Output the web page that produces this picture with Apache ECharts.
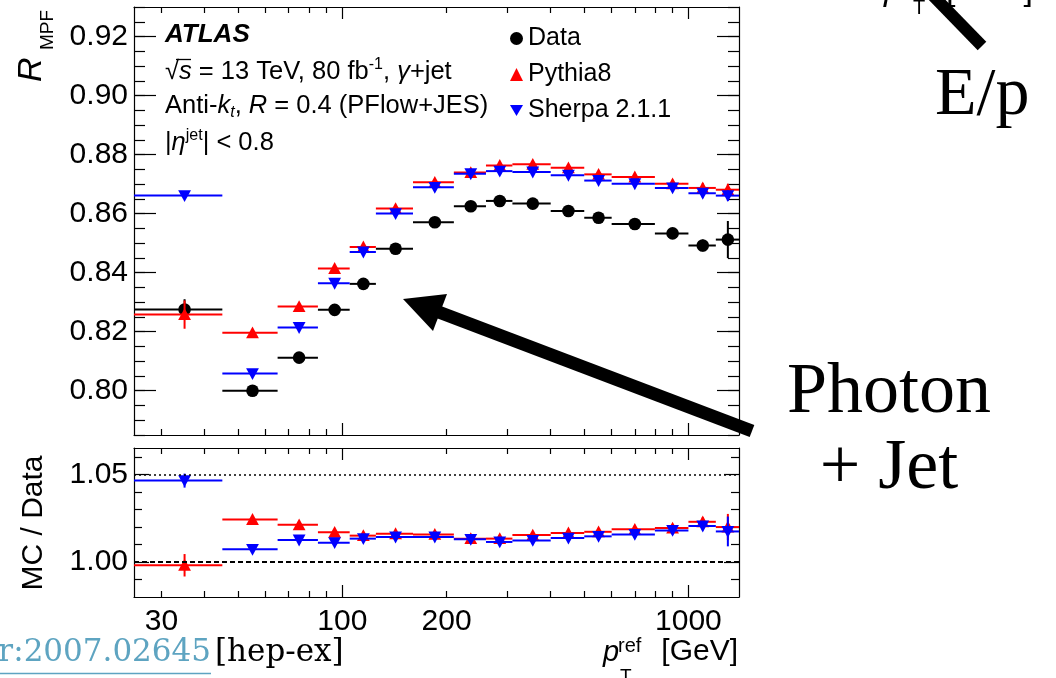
<!DOCTYPE html>
<html>
<head>
<meta charset="utf-8">
<title>R_MPF vs pT(ref)</title>
<script src="https://cdn.jsdelivr.net/npm/echarts@6.0.0/dist/echarts.min.js"></script>
<style>
html, body { margin: 0; padding: 0; background: #fff; }
#chart { width: 1056px; height: 678px; }
</style>
</head>
<body>
<div id="chart"></div>
<script>
// pT(ref) binning [GeV]
const binEdges   = [25, 45, 65, 85, 105, 125, 160, 210, 260, 310, 400, 500, 600, 800, 1000, 1200, 1400];
const binCenters = [35, 55, 75, 95, 115, 142.5, 185, 235, 285, 355, 450, 550, 700, 900, 1100, 1300];

// MPF response, |eta_jet| < 0.8
const dataR     = [0.8275, 0.8000, 0.8112, 0.8274, 0.8362, 0.8481, 0.8571, 0.8625, 0.8643, 0.8634, 0.8609, 0.8586, 0.8565, 0.8533, 0.8492, 0.8512];
const dataErr   = [0.0035, 0.0008, 0.0007, 0.0007, 0.0007, 0.0007, 0.0007, 0.0007, 0.0008, 0.0008, 0.0009, 0.0010, 0.0012, 0.0015, 0.0020, 0.0063];
const pythiaR   = [0.8258, 0.8196, 0.8285, 0.8414, 0.8487, 0.8617, 0.8706, 0.8739, 0.8763, 0.8767, 0.8755, 0.8733, 0.8724, 0.8701, 0.8687, 0.8681];
const pythiaErr = [0.0048, 0.0008, 0.0008, 0.0008, 0.0008, 0.0009, 0.0009, 0.0009, 0.0010, 0.0010, 0.0011, 0.0012, 0.0013, 0.0014, 0.0016, 0.0020];
const sherpaR   = [0.8661, 0.8058, 0.8214, 0.8364, 0.8470, 0.8600, 0.8689, 0.8735, 0.8744, 0.8741, 0.8730, 0.8712, 0.8701, 0.8687, 0.8669, 0.8661];
const sherpaErr = [0.0010, 0.0006, 0.0006, 0.0006, 0.0006, 0.0007, 0.0007, 0.0008, 0.0008, 0.0008, 0.0009, 0.0010, 0.0011, 0.0012, 0.0014, 0.0018];

// MC / Data
const pythiaRatio    = [0.9981, 1.0242, 1.0212, 1.0169, 1.0150, 1.0161, 1.0157, 1.0133, 1.0133, 1.0153, 1.0165, 1.0172, 1.0186, 1.0193, 1.0229, 1.0199];
const pythiaRatioErr = [0.0064, 0.0012, 0.0014, 0.0014, 0.0014, 0.0015, 0.0015, 0.0016, 0.0017, 0.0018, 0.0019, 0.0020, 0.0022, 0.0024, 0.0026, 0.0075];
const sherpaRatio    = [1.0464, 1.0072, 1.0125, 1.0110, 1.0133, 1.0142, 1.0142, 1.0129, 1.0114, 1.0123, 1.0136, 1.0146, 1.0157, 1.0180, 1.0205, 1.0174];
const sherpaRatioErr = [0.0040, 0.0010, 0.0012, 0.0012, 0.0012, 0.0013, 0.0013, 0.0014, 0.0015, 0.0016, 0.0017, 0.0018, 0.0020, 0.0022, 0.0024, 0.0085];

// Axis ticks and labels
const xMajorTicks  = [100, 1000];
const xMinorTicks  = [30, 40, 50, 60, 70, 80, 90, 200, 300, 400, 500, 600, 700, 800, 900];
const xTickLabels  = [30, 100, 200, 1000];
const mainYTicks   = [0.80, 0.82, 0.84, 0.86, 0.88, 0.90, 0.92];
const ratioYTicks  = [1.00, 1.05];
const ratioYMinor  = [0.99, 1.01, 1.02, 1.03, 1.04, 1.06];
const mainYMinor   = [];
for (let k = 157; k <= 186; k++) mainYMinor.push(+(k * 0.005).toFixed(3));

const X_MIN = 25, X_MAX = 1400;
const MAIN_MIN = 0.785, MAIN_MAX = 0.93;
const RATIO_MIN = 0.98, RATIO_MAX = 1.065;

const SANS = '"Liberation Sans", Arial, Helvetica, sans-serif';
const SERIF = '"Liberation Serif", "Times New Roman", serif';
const RED = '#ff0000', BLUE = '#0000ff', BLACK = '#000000';
const LINK = '#5ea4c1';

function xAxisOf(grid, position, ticks, len, withLine, labels) {
  return {
    type: 'log', logBase: 10, gridIndex: grid, position, min: X_MIN, max: X_MAX,
    axisLine: { show: withLine, onZero: false, lineStyle: { color: BLACK, width: 1.2 } },
    axisTick: { show: true, inside: true, length: len, customValues: ticks, lineStyle: { color: BLACK, width: 1.2 } },
    axisLabel: labels ? {
      show: true, customValues: labels, formatter: v => String(Math.round(v)),
      color: BLACK, fontFamily: SANS, fontSize: 30, margin: 10
    } : { show: false },
    splitLine: { show: false }, minorTick: { show: false }, minorSplitLine: { show: false }
  };
}

function yAxisOf(grid, position, min, max, ticks, len, withLine, labels) {
  return {
    type: 'value', gridIndex: grid, position, min, max,
    axisLine: { show: withLine, onZero: false, lineStyle: { color: BLACK, width: 1.2 } },
    axisTick: { show: true, inside: true, length: len, customValues: ticks, lineStyle: { color: BLACK, width: 1.2 } },
    axisLabel: labels ? {
      show: true, customValues: labels, formatter: v => v.toFixed(2),
      color: BLACK, fontFamily: SANS, fontSize: 30, margin: 6
    } : { show: false },
    splitLine: { show: false }, minorTick: { show: false }, minorSplitLine: { show: false }
  };
}

// One histogram-style series: horizontal bin width, vertical error bar, marker
function binSeries(name, color, marker, axisIdx, values, errors, extra) {
  return Object.assign({
    type: 'custom', name, xAxisIndex: axisIdx, yAxisIndex: axisIdx,
    itemStyle: { color },
    data: values.map((v, i) => [binCenters[i], v, errors[i], binEdges[i], binEdges[i + 1]]),
    encode: { x: 0, y: 1 },
    renderItem: (params, api) => {
      const xc = api.value(0), v = api.value(1), e = api.value(2);
      const a = api.coord([api.value(3), v]);
      const b = api.coord([api.value(4), v]);
      const t = api.coord([xc, v + e]);
      const d = api.coord([xc, v - e]);
      const c = api.coord([xc, v]);
      const s = 6.4;
      let sym;
      if (marker === 'circle') {
        sym = { type: 'circle', shape: { cx: c[0], cy: c[1], r: 6.3 }, style: { fill: color } };
      } else if (marker === 'up') {
        sym = { type: 'polygon', shape: { points: [[c[0], c[1] - s], [c[0] - s, c[1] + s * 0.85], [c[0] + s, c[1] + s * 0.85]] }, style: { fill: color } };
      } else {
        sym = { type: 'polygon', shape: { points: [[c[0], c[1] + s], [c[0] - s, c[1] - s * 0.85], [c[0] + s, c[1] - s * 0.85]] }, style: { fill: color } };
      }
      return {
        type: 'group',
        children: [
          { type: 'line', shape: { x1: a[0], y1: a[1], x2: b[0], y2: b[1] }, style: { stroke: color, lineWidth: 2 } },
          { type: 'line', shape: { x1: t[0], y1: t[1], x2: d[0], y2: d[1] }, style: { stroke: color, lineWidth: 2 } },
          sym
        ]
      };
    }
  }, extra || {});
}

const rich = {
  n:   { fontFamily: SANS, fontSize: 25.5, fill: BLACK, lineHeight: 30, verticalAlign: 'middle' },
  i:   { fontFamily: SANS, fontSize: 25.5, fontStyle: 'italic', fill: BLACK, lineHeight: 30, verticalAlign: 'middle' },
  sup: { fontFamily: SANS, fontSize: 16, fill: BLACK, lineHeight: 15, verticalAlign: 'top' },
  sub: { fontFamily: SANS, fontSize: 16, fontStyle: 'italic', fill: BLACK, lineHeight: 15, verticalAlign: 'bottom' }
};

function txt(x, y, text, font, opts) {
  return Object.assign({
    type: 'text', x, y, z: 100,
    style: Object.assign({ text, font, fill: BLACK, align: 'left', verticalAlign: 'middle' }, (opts && opts.style) || {})
  }, (opts && opts.el) || {});
}

const graphics = [
  // plot annotations
  txt(165, 35, 'ATLAS', `italic bold 26px ${SANS}`),
  { type: 'text', x: 165, y: 72, z: 100, style: { text: '{n|√}{i|s}{n| = 13 TeV, 80 fb}{sup|-1}{n|, }{i|γ}{n|+jet}', rich, verticalAlign: 'middle' } },
  { type: 'line', z: 100, shape: { x1: 176, y1: 59.5, x2: 191, y2: 59.5 }, style: { stroke: BLACK, lineWidth: 1.3 } },
  { type: 'text', x: 165, y: 106, z: 100, style: { text: '{n|Anti-}{i|k}{sub|t}{n|, }{i|R}{n| = 0.4 (PFlow+JES)}', rich, verticalAlign: 'middle' } },
  { type: 'text', x: 165, y: 143, z: 100, style: { text: '{n||}{i|η}{sup|jet}{n|| < 0.8}', rich, verticalAlign: 'middle' } },

  // axis titles
  txt(32, 82, 'R', `italic 34px ${SANS}`, { el: { rotation: Math.PI / 2 } }),
  txt(48, 50, 'MPF', `19px ${SANS}`, { el: { rotation: Math.PI / 2 } }),
  txt(34, 523, 'MC / Data', `30px ${SANS}`, { el: { rotation: Math.PI / 2 }, style: { align: 'center' } }),
  txt(603, 653, 'p', `italic 29px ${SANS}`),
  txt(618, 646, 'ref', `20px ${SANS}`),
  txt(620, 677, 'T', `19px ${SANS}`),
  txt(738, 652, '[GeV]', `30px ${SANS}`, { style: { align: 'right' } }),

  // slide annotations
  txt(935, 96, 'E/p', `68px ${SERIF}`),
  txt(889, 393, 'Photon', `72px ${SERIF}`, { style: { align: 'center' } }),
  txt(889, 469, '+ Jet', `72px ${SERIF}`, { style: { align: 'center' } }),
  { type: 'line', z: 100, shape: { x1: 752, y1: 431, x2: 436, y2: 311 }, style: { stroke: BLACK, lineWidth: 13 } },
  { type: 'polygon', z: 100, shape: { points: [[403, 299], [447, 294], [433, 331]] }, style: { fill: BLACK } },
  { type: 'line', z: 100, shape: { x1: 982, y1: 46, x2: 910, y2: -28 }, style: { stroke: BLACK, lineWidth: 12 } },
  txt(884, -9, 'p', `italic 34px ${SANS}`),
  txt(913, 8, 'T', `20px ${SANS}`),
  txt(946, -9, '[GeV]', `34px ${SANS}`),
  txt(211, 653, 'r:2007.02645', `31px "DejaVu Serif", serif`, { style: { align: 'right', fill: LINK } }),
  { type: 'line', z: 100, shape: { x1: 0, y1: 673.5, x2: 211, y2: 673.5 }, style: { stroke: LINK, lineWidth: 1.5 } },
  txt(215, 653, '[hep-ex]', `31px "DejaVu Serif", serif`)
];

const option = {
  animation: false,
  backgroundColor: '#ffffff',
  grid: [
    { left: 134, top: 7, width: 605, height: 428 },
    { left: 134, top: 448, width: 605, height: 149 }
  ],
  xAxis: [
    xAxisOf(0, 'bottom', xMajorTicks, 12, true),
    xAxisOf(0, 'bottom', xMinorTicks, 6, false),
    xAxisOf(0, 'top', xMajorTicks, 12, true),
    xAxisOf(0, 'top', xMinorTicks, 6, false),
    xAxisOf(1, 'bottom', xMajorTicks, 12, true, xTickLabels),
    xAxisOf(1, 'bottom', xMinorTicks, 6, false),
    xAxisOf(1, 'top', xMajorTicks, 12, true),
    xAxisOf(1, 'top', xMinorTicks, 6, false)
  ],
  yAxis: [
    yAxisOf(0, 'left', MAIN_MIN, MAIN_MAX, mainYTicks, 22, true, mainYTicks),
    yAxisOf(0, 'left', MAIN_MIN, MAIN_MAX, mainYMinor, 11, false),
    yAxisOf(0, 'right', MAIN_MIN, MAIN_MAX, mainYTicks, 22, true),
    yAxisOf(0, 'right', MAIN_MIN, MAIN_MAX, mainYMinor, 11, false),
    yAxisOf(1, 'left', RATIO_MIN, RATIO_MAX, ratioYTicks, 15, true, ratioYTicks),
    yAxisOf(1, 'left', RATIO_MIN, RATIO_MAX, ratioYMinor, 8, false),
    yAxisOf(1, 'right', RATIO_MIN, RATIO_MAX, ratioYTicks, 15, true),
    yAxisOf(1, 'right', RATIO_MIN, RATIO_MAX, ratioYMinor, 8, false)
  ],
  legend: {
    orient: 'vertical', left: 505, top: 21, itemWidth: 13, itemHeight: 13, itemGap: 11,
    selectedMode: false,
    textStyle: { fontFamily: SANS, fontSize: 25, color: BLACK, lineHeight: 24 },
    data: [
      { name: 'Data', icon: 'circle' },
      { name: 'Pythia8', icon: 'triangle' },
      { name: 'Sherpa 2.1.1', icon: 'path://M0,0L14,0L7,12Z' }
    ]
  },
  series: [
    binSeries('Data', BLACK, 'circle', 0, dataR, dataErr),
    binSeries('Pythia8', RED, 'up', 0, pythiaR, pythiaErr),
    binSeries('Sherpa 2.1.1', BLUE, 'down', 0, sherpaR, sherpaErr),
    binSeries('Pythia8', RED, 'up', 4, pythiaRatio, pythiaRatioErr, {
      markLine: {
        silent: true, symbol: ['none', 'none'], label: { show: false },
        data: [
          { yAxis: 1.05, lineStyle: { type: [2, 3], color: BLACK, width: 1.6 } },
          { yAxis: 1.00, lineStyle: { type: [5, 3], color: BLACK, width: 1.8 } }
        ]
      }
    }),
    binSeries('Sherpa 2.1.1', BLUE, 'down', 4, sherpaRatio, sherpaRatioErr)
  ],
  graphic: { elements: graphics }
};

const chart = echarts.init(document.getElementById('chart'), null, { renderer: 'canvas' });
chart.setOption(option);
</script>
</body>
</html>
